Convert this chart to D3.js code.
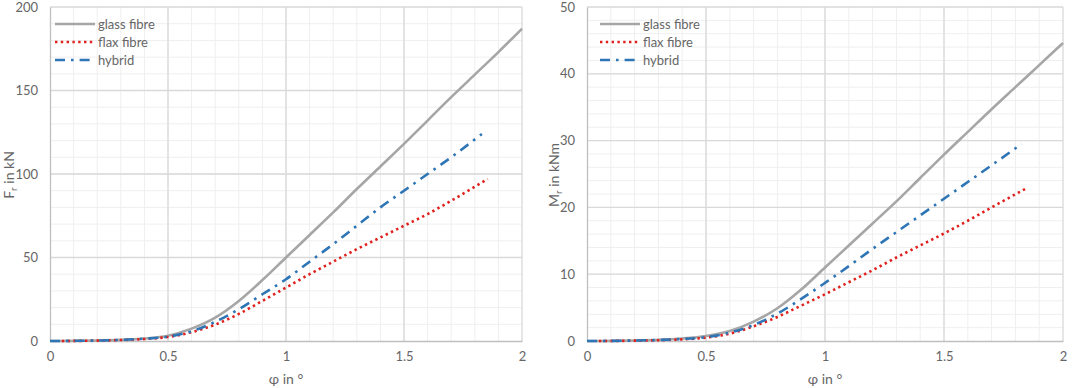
<!DOCTYPE html>
<html>
<head>
<meta charset="utf-8">
<script src="https://cdn.jsdelivr.net/npm/d3@7"></script>
<style>
  body { margin: 0; background: #fff; }
  svg text { font-family: Lato, "Open Sans", sans-serif; fill: #666; }
</style>
</head>
<body>
<div id="chart"></div>
<script>
// rotation angle (deg)
const phi = [0, 0.1, 0.2, 0.3, 0.4, 0.5, 0.6, 0.7, 0.8, 0.9, 1.0, 1.1, 1.2, 1.3, 1.4, 1.5, 1.6, 1.7, 1.8, 1.9, 2.0];
const phiFlaxF = [0.05, 0.1, 0.2, 0.3, 0.4, 0.5, 0.6, 0.7, 0.8, 0.9, 1.0, 1.1, 1.2, 1.3, 1.4, 1.5, 1.6, 1.7, 1.855];
const phiHybF = [0, 0.1, 0.2, 0.3, 0.4, 0.5, 0.6, 0.7, 0.8, 0.9, 1.0, 1.1, 1.2, 1.3, 1.4, 1.5, 1.6, 1.7, 1.83];
const phiFlaxM = [0.05, 0.1, 0.2, 0.3, 0.4, 0.5, 0.6, 0.7, 0.8, 0.9, 1.0, 1.1, 1.2, 1.3, 1.4, 1.5, 1.6, 1.7, 1.843];
const phiHybM = [0, 0.1, 0.2, 0.3, 0.4, 0.5, 0.6, 0.7, 0.8, 0.9, 1.0, 1.1, 1.2, 1.3, 1.4, 1.5, 1.6, 1.7, 1.826];

// force F_r in kN
const glassF = [0, 0.1, 0.3, 0.7, 1.5, 3.2, 7.4, 14, 24, 36.5, 50, 63.5, 77, 91, 104.5, 118, 132, 146, 159.5, 173, 187];
const flaxF = [0, 0.05, 0.25, 0.6, 1.2, 2.4, 5.3, 9.8, 16.2, 24, 32, 40, 47.5, 55, 62, 69, 76, 84, 97];
const hybF = [0, 0.1, 0.3, 0.7, 1.4, 2.6, 5.8, 11.5, 19, 28, 37, 47.5, 58, 69, 80, 90, 100, 110, 124];

// moment M_r in kNm
const glassM = [0, 0.02, 0.08, 0.18, 0.38, 0.75, 1.5, 2.9, 4.9, 7.7, 11.0, 14.3, 17.6, 20.9, 24.4, 27.9, 31.3, 34.7, 38.0, 41.3, 44.6];
const flaxM = [0, 0.01, 0.05, 0.12, 0.25, 0.5, 1.1, 2.2, 3.6, 5.3, 7.0, 8.8, 10.6, 12.5, 14.3, 16.1, 18.0, 20.0, 22.8];
const hybM = [0, 0.02, 0.07, 0.15, 0.3, 0.58, 1.25, 2.4, 4.1, 6.3, 8.7, 11.2, 13.8, 16.3, 18.8, 21.3, 23.8, 26.3, 29.5];

const seriesNames = ["glass fibre", "flax fibre", "hybrid"];
const xTicks = [0, 0.5, 1, 1.5, 2];
const yTicksF = [0, 50, 100, 150, 200];
const yTicksM = [0, 10, 20, 30, 40, 50];

const styles = [
  { color: "#a6a6a6", width: 2.6, dash: null, cap: "butt" },
  { color: "#e0201c", width: 2.6, dash: "2.4,3.4", cap: "butt" },
  { color: "#2e75b6", width: 2.6, dash: "10,6,2.6,6", cap: "butt" }
];

const svg = d3.select("#chart").append("svg")
  .attr("width", 1072)
  .attr("height", 388);

function panel(opt) {
  const x = d3.scaleLinear().domain([0, 2]).range([opt.left, opt.right]);
  const y = d3.scaleLinear().domain([0, opt.yMax]).range([341, 7]);
  const g = svg.append("g");

  // minor grid
  g.selectAll(".vminor").data(d3.range(1, 20).map(i => i / 10))
    .enter().append("line")
    .attr("x1", d => x(d)).attr("x2", d => x(d))
    .attr("y1", y(0)).attr("y2", y(opt.yMax))
    .attr("stroke", "#efefef").attr("stroke-width", 1);
  g.selectAll(".hminor").data(d3.range(1, opt.yMax / opt.minor).map(i => i * opt.minor))
    .enter().append("line")
    .attr("x1", x(0)).attr("x2", x(2))
    .attr("y1", d => y(d)).attr("y2", d => y(d))
    .attr("stroke", "#efefef").attr("stroke-width", 1);

  // major grid
  g.selectAll(".vmajor").data(xTicks.slice(1))
    .enter().append("line")
    .attr("x1", d => x(d)).attr("x2", d => x(d))
    .attr("y1", y(0)).attr("y2", y(opt.yMax))
    .attr("stroke", "#d9d9d9").attr("stroke-width", 1.3);
  g.selectAll(".hmajor").data(opt.yTicks.slice(1))
    .enter().append("line")
    .attr("x1", x(0)).attr("x2", x(2))
    .attr("y1", d => y(d)).attr("y2", d => y(d))
    .attr("stroke", "#d9d9d9").attr("stroke-width", 1.3);

  // axes
  const xAxis = g.append("g").attr("transform", `translate(0,${y(0)})`)
    .call(d3.axisBottom(x).tickValues(xTicks).tickSize(0).tickPadding(11).tickFormat(d3.format("~g")));
  xAxis.select(".domain").attr("stroke", "#bfbfbf").attr("stroke-width", 1.3);
  xAxis.selectAll("text").attr("font-size", 13).style("font-family", "Lato, sans-serif").attr("fill", "#666");

  const yAxis = g.append("g").attr("transform", `translate(${x(0)},0)`)
    .call(d3.axisLeft(y).tickValues(opt.yTicks).tickSize(0).tickPadding(12));
  yAxis.select(".domain").attr("stroke", "#bfbfbf").attr("stroke-width", 1.3);
  yAxis.selectAll("text").attr("font-size", 13).style("font-family", "Lato, sans-serif").attr("fill", "#666");

  // axis titles
  g.append("text")
    .attr("x", (x(0) + x(2)) / 2).attr("y", 384)
    .attr("text-anchor", "middle").attr("font-size", 14)
    .text("φ in °");

  const yt = g.append("text")
    .attr("transform", `translate(${opt.titleX},175) rotate(-90)`)
    .attr("text-anchor", "middle").attr("font-size", 14);
  yt.append("tspan").text(opt.sym);
  yt.append("tspan").attr("font-size", 10).attr("dy", 3).text("r");
  yt.append("tspan").attr("dy", -3).text(opt.unit);

  // curves
  const line = d3.line()
    .x(d => x(d[0])).y(d => y(d[1]))
    .curve(d3.curveMonotoneX);
  opt.series.forEach((s, i) => {
    const st = styles[i];
    g.append("path")
      .datum(d3.zip(s.x, s.y))
      .attr("d", line)
      .attr("fill", "none")
      .attr("stroke", st.color)
      .attr("stroke-width", st.width)
      .attr("stroke-linecap", st.cap)
      .attr("stroke-dasharray", st.dash);
  });

  // legend
  seriesNames.forEach((name, i) => {
    const ly = 24 + i * 18;
    const st = styles[i];
    g.append("line")
      .attr("x1", opt.legX).attr("x2", opt.legX + 40)
      .attr("y1", ly).attr("y2", ly)
      .attr("stroke", st.color)
      .attr("stroke-width", st.width)
      .attr("stroke-dasharray", st.dash);
    g.append("text")
      .attr("x", opt.legX + 43).attr("y", ly + 4.5)
      .attr("font-size", 13)
      .text(name);
  });
}

panel({
  left: 50, right: 522, yMax: 200, minor: 10, yTicks: yTicksF,
  titleX: 14, sym: "F", unit: " in kN", legX: 55,
  series: [
    { x: phi, y: glassF },
    { x: phiFlaxF, y: flaxF },
    { x: phiHybF, y: hybF }
  ]
});

panel({
  left: 587, right: 1063, yMax: 50, minor: 2, yTicks: yTicksM,
  titleX: 559, sym: "M", unit: " in kNm", legX: 600,
  series: [
    { x: phi, y: glassM },
    { x: phiFlaxM, y: flaxM },
    { x: phiHybM, y: hybM }
  ]
});
</script>
</body>
</html>
